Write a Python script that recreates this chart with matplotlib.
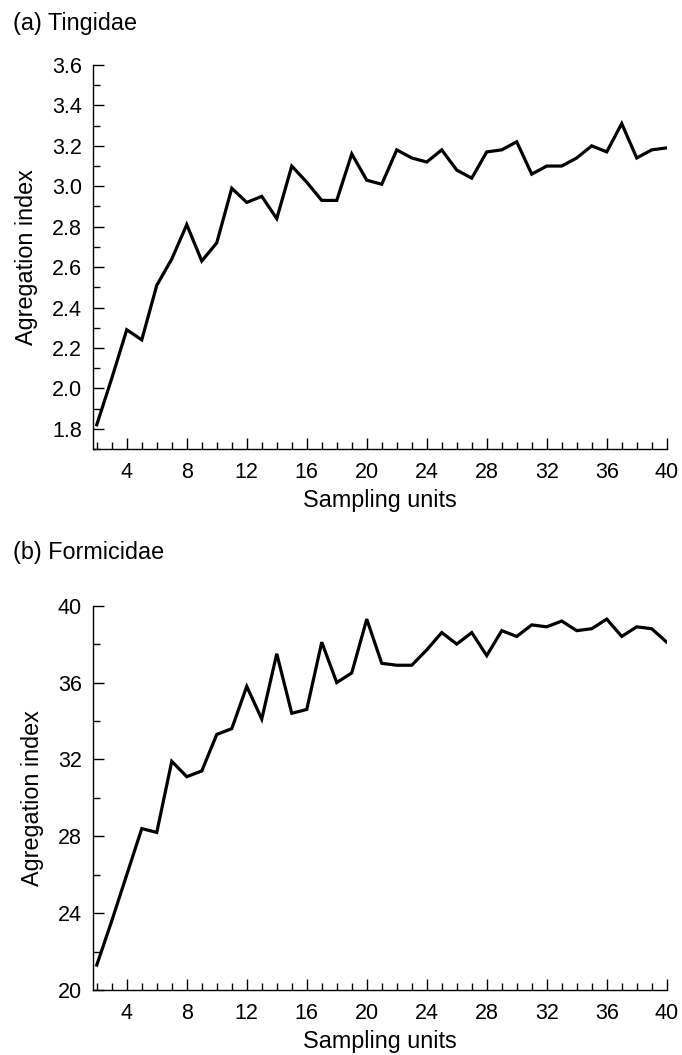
import numpy as np
import matplotlib
matplotlib.use("Agg")
import matplotlib.pyplot as plt
from matplotlib.ticker import MultipleLocator

plt.rcParams['font.family'] = ['Liberation Sans', 'DejaVu Sans']

units = np.arange(2, 41)

# (a) Tingidae
tingidae = [1.82, 2.05, 2.29, 2.24, 2.51, 2.64, 2.81, 2.63, 2.72, 2.99,
            2.92, 2.95, 2.84, 3.10, 3.02, 2.93, 2.93, 3.16, 3.03, 3.01,
            3.18, 3.14, 3.12, 3.18, 3.08, 3.04, 3.17, 3.18, 3.22, 3.06,
            3.10, 3.10, 3.14, 3.20, 3.17, 3.31, 3.14, 3.18, 3.19]

# (b) Formicidae
formicidae = [21.3, 23.6, 26.0, 28.4, 28.2, 31.9, 31.1, 31.4, 33.3, 33.6,
              35.8, 34.1, 37.5, 34.4, 34.6, 38.1, 36.0, 36.5, 39.3, 37.0,
              36.9, 36.9, 37.7, 38.6, 38.0, 38.6, 37.4, 38.7, 38.4, 39.0,
              38.9, 39.2, 38.7, 38.8, 39.3, 38.4, 38.9, 38.8, 38.1]

xticks = [4, 8, 12, 16, 20, 24, 28, 32, 36, 40]

fig = plt.figure(figsize=(6.82, 10.55), dpi=100)
ax1 = fig.add_axes([0.1364, 0.5744, 0.8412, 0.3640])
ax2 = fig.add_axes([0.1364, 0.0616, 0.8412, 0.3643])


def style(ax, ymajor, yminor, fmt):
    ax.spines['top'].set_visible(False)
    ax.spines['right'].set_visible(False)
    ax.spines['left'].set_linewidth(1.0)
    ax.spines['bottom'].set_linewidth(1.0)
    ax.set_xlim(1.75, 40)
    ax.set_xticks(xticks)
    ax.xaxis.set_minor_locator(MultipleLocator(1))
    ax.yaxis.set_major_locator(MultipleLocator(ymajor))
    ax.yaxis.set_minor_locator(MultipleLocator(yminor))
    ax.yaxis.set_major_formatter(fmt)
    ax.tick_params(which='major', direction='in', length=8, width=1.0,
                   labelsize=15.5)
    ax.tick_params(axis='x', which='major', pad=9)
    ax.tick_params(axis='y', which='major', pad=8)
    ax.tick_params(which='minor', direction='in', length=5, width=1.0)
    ax.set_xlabel("Sampling units", fontsize=16.8, labelpad=5)
    ax.set_ylabel("Agregation index", fontsize=16.8, labelpad=10)


ax1.plot(units, tingidae, color='black', lw=2.3, solid_joinstyle='miter')
ax1.set_ylim(1.70, 3.6)
style(ax1, 0.2, 0.1, '{x:.1f}')
ax1.set_yticks(np.arange(1.8, 3.61, 0.2))
fig.text(0.019, 0.978, "(a) Tingidae", fontsize=16.8, va='center', ha='left')

ax2.plot(units, formicidae, color='black', lw=2.3, solid_joinstyle='miter')
ax2.set_ylim(20, 40)
style(ax2, 4, 2, '{x:.0f}')
fig.text(0.019, 0.476, "(b) Formicidae", fontsize=16.8, va='center', ha='left')

fig.savefig("out.png", dpi=100)
